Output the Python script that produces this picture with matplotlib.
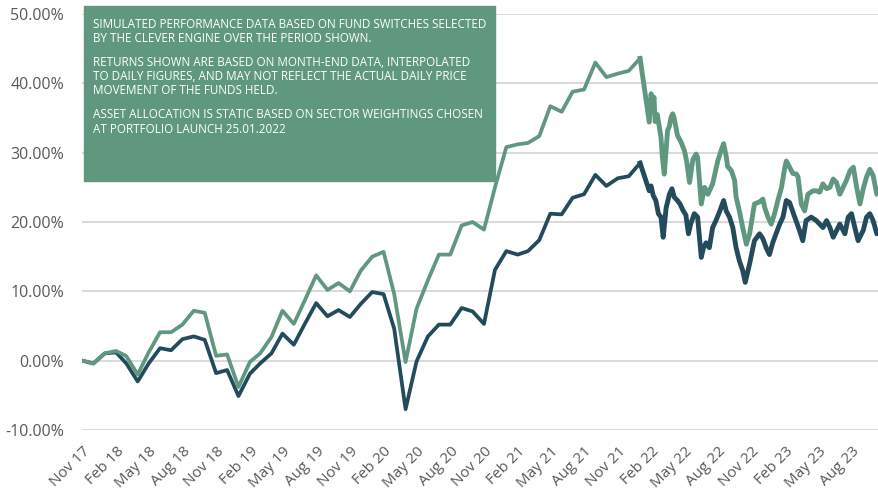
import matplotlib
matplotlib.use("Agg")
import matplotlib.pyplot as plt
from matplotlib.patches import Rectangle
import numpy as np
import pandas as pd

# month-end simulated returns (%), Oct 2017 .. Dec 2021
green_monthly = [0.0, -0.4, 1.05, 1.4, 0.65, -2.0, 1.2, 4.1, 4.1, 5.2, 7.2, 6.9,
                 0.7, 0.9, -3.8, -0.2, 1.05, 3.4, 7.2, 5.3, 8.7, 12.3, 10.2, 11.2,
                 10.0, 13.0, 15.0, 15.7, 9.6, -0.2, 7.5, 11.6, 15.3, 15.3, 19.5, 20.0,
                 18.9, 25.0, 30.8, 31.2, 31.4, 32.4, 36.7, 35.9, 38.8, 39.1, 43.0, 40.9,
                 41.4, 41.8, 43.6]
dark_monthly = [0.0, -0.4, 1.05, 1.2, -0.4, -3.0, -0.4, 1.8, 1.5, 3.1, 3.5, 3.0,
                -1.8, -1.35, -5.1, -1.9, -0.4, 1.05, 3.9, 2.3, 5.3, 8.3, 6.4, 7.3,
                6.3, 8.2, 9.9, 9.6, 4.6, -7.0, -0.1, 3.5, 5.2, 5.2, 7.6, 7.1,
                5.3, 13.1, 15.8, 15.3, 15.8, 17.4, 21.2, 21.1, 23.5, 24.0, 26.8, 25.2,
                26.3, 26.6, 28.5]

# daily part after launch (days after 25.01.2022, %)
green_days = [0, 5, 9, 13, 16, 22, 32, 36, 41, 50, 55, 59, 64, 68, 77, 87, 96, 102,
              110, 119, 128, 132, 142, 151, 160, 173, 187, 196, 203, 210, 214, 224,
              233, 237, 246, 255, 265, 274, 287, 301, 310, 315, 324, 333, 342, 351,
              361, 370, 374, 383, 392, 402, 406, 415, 424, 433, 447, 456, 465, 474,
              484, 493, 502, 511, 520, 529, 538, 548, 557, 566, 575, 584, 593, 602,
              611, 621, 627]
green_daily = [34.4, 38.5, 37.0, 38.0, 34.5, 35.5, 32.2, 29.3, 26.9, 33.2, 33.8, 35.0,
               35.6, 35.0, 32.5, 31.5, 30.3, 28.8, 25.7, 29.0, 29.8, 29.3, 22.6, 25.0,
               24.0, 25.5, 28.8, 30.3, 31.3, 29.5, 28.0, 27.4, 26.0, 23.6, 21.6, 19.2,
               16.8, 18.3, 22.6, 22.9, 23.3, 22.1, 20.7, 19.7, 21.2, 23.1, 25.0, 27.9,
               28.8, 27.9, 27.0, 26.9, 26.5, 22.6, 21.6, 24.0, 24.5, 24.5, 24.3, 25.5,
               24.8, 25.0, 26.2, 25.7, 24.0, 25.0, 26.0, 27.4, 27.9, 25.0, 22.6, 24.8,
               26.5, 27.6, 26.7, 24.0, 24.5]

dark_days = [0, 5, 11, 18, 25, 32, 38, 46, 55, 62, 68, 77, 84, 91, 100, 107, 113, 123,
             132, 142, 148, 155, 164, 173, 182, 192, 203, 210, 219, 228, 237, 246,
             255, 262, 274, 287, 301, 310, 319, 328, 337, 346, 356, 365, 374, 383,
             397, 410, 419, 428, 442, 456, 465, 474, 484, 493, 502, 520, 534, 543,
             552, 561, 570, 584, 593, 602, 611, 621, 627]
dark_daily = [24.5, 25.2, 23.8, 23.1, 21.2, 20.7, 17.8, 22.0, 24.0, 24.8, 23.6, 23.1,
              22.6, 21.8, 21.0, 18.3, 19.7, 21.2, 20.7, 14.9, 16.3, 17.0, 16.3, 19.2,
              20.2, 21.5, 23.1, 21.6, 20.7, 19.2, 16.3, 14.4, 13.0, 11.3, 14.0, 17.3,
              18.3, 17.6, 16.3, 15.3, 17.0, 18.3, 19.7, 20.7, 23.1, 22.8, 20.7, 18.8,
              17.3, 20.2, 20.7, 20.2, 19.7, 19.2, 20.2, 19.2, 17.8, 19.7, 18.3, 20.7,
              21.2, 19.2, 17.3, 18.8, 20.7, 21.2, 20.2, 18.3, 18.8]

note_lines = ["SIMULATED PERFORMANCE DATA BASED ON FUND SWITCHES SELECTED",
              "BY THE CLEVER ENGINE OVER THE PERIOD SHOWN.",
              "RETURNS SHOWN ARE BASED ON MONTH-END DATA, INTERPOLATED",
              "TO DAILY FIGURES, AND MAY NOT REFLECT THE ACTUAL DAILY PRICE",
              "MOVEMENT OF THE FUNDS HELD.",
              "ASSET ALLOCATION IS STATIC BASED ON SECTOR WEIGHTINGS CHOSEN",
              "AT PORTFOLIO LAUNCH 25.01.2022"]

GREEN = "#5f987f"
DARK = "#234b5c"
GREY = "#595959"

launch = pd.Timestamp("2022-01-25")
month_dates = pd.date_range("2017-10-31", periods=len(green_monthly), freq="ME")
g_day_dates = launch + pd.to_timedelta(green_days, unit="D")
d_day_dates = launch + pd.to_timedelta(dark_days, unit="D")

plt.rcParams["font.family"] = ["Open Sans", "DejaVu Sans"]

W, H = 879, 493
fig = plt.figure(figsize=(W / 100, H / 100), dpi=100)
ax = fig.add_axes([82 / W, 1 - 430 / H, 1 - 82 / W, (430 - 14) / H])

# monthly part, then the noisier daily part (drawn a bit heavier, like the daily jitter)
ax.plot(month_dates, dark_monthly, color=DARK, lw=2.7, zorder=3)
ax.plot(month_dates[-1:].append(d_day_dates), [dark_monthly[-1]] + dark_daily,
        color=DARK, lw=3.5, zorder=3)
ax.plot(month_dates, green_monthly, color=GREEN, lw=2.7, zorder=4)
ax.plot(month_dates[-1:].append(g_day_dates), [green_monthly[-1]] + green_daily,
        color=GREEN, lw=3.5, zorder=4)

ax.set_ylim(-10, 50)
ax.set_yticks(np.arange(-10, 51, 10))
ax.set_yticklabels([f"{v:.2f}%" for v in np.arange(-10, 51, 10)], color=GREY, fontsize=11.5)
ax.yaxis.grid(True, color="#d9d9d9", lw=1.4)
ax.set_axisbelow(True)

ax.set_xlim(pd.Timestamp("2017-10-30"), g_day_dates[-1])
ticks = pd.date_range("2017-11-01", "2023-08-01", freq="3MS")
ax.set_xticks(ticks)
ax.set_xticklabels([t.strftime("%b %y") for t in ticks], rotation=45, ha="right",
                   va="top", rotation_mode="anchor", color=GREY, fontsize=11)
ax.tick_params(axis="both", length=0)
ax.tick_params(axis="x", pad=10)
ax.tick_params(axis="y", pad=13)
for s in ax.spines.values():
    s.set_visible(False)

# note box
fig.patches.append(Rectangle((84 / W, 1 - 181 / H), (495 - 84) / W, (181 - 6) / H,
                             transform=fig.transFigure, color=GREEN, zorder=5))
line_y = [24, 38, 63, 77, 91, 115, 129]
for txt, yy in zip(note_lines, line_y):
    fig.text(93 / W, 1 - yy / H, txt, color="white", fontsize=8.4, va="center",
             ha="left", zorder=6)

plt.savefig("out.png", dpi=100)
